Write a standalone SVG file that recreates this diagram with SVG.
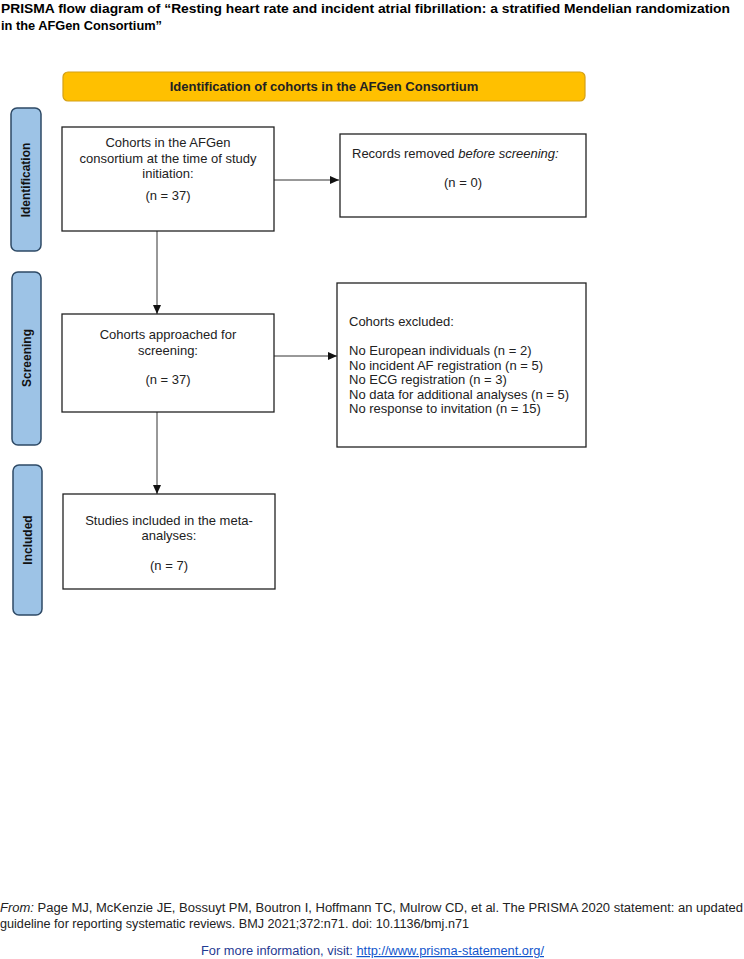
<svg xmlns="http://www.w3.org/2000/svg" width="744" height="959" viewBox="0 0 744 959">
<style>
.box{fill:#fff;stroke:#222;stroke-width:1.3}
.side{fill:#9DC3E6;stroke:#2E4A66;stroke-width:1.5}
.t{font-family:"Liberation Sans",Arial,sans-serif;font-size:13px;fill:#222}
.c{text-anchor:middle}
.sl{font-family:"Liberation Sans",Arial,sans-serif;font-size:12px;font-weight:bold;fill:#111;text-anchor:middle}
.ttl{font-family:"Liberation Sans",Arial,sans-serif;font-size:13.5px;font-weight:bold;fill:#000}
.ft{font-family:"Liberation Sans",Arial,sans-serif;font-size:12px;fill:#222}
.line{stroke:#333;stroke-width:1;fill:none}
</style>
<defs>
<marker id="ah" markerWidth="10" markerHeight="10" refX="9" refY="5" orient="auto" markerUnits="userSpaceOnUse">
<path d="M0,1 L9,5 L0,9 Z" fill="#111"/>
</marker>
</defs>
<rect width="744" height="959" fill="#fff"/>
<g id="title">
<text class="ttl" x="1" y="13" textLength="729" lengthAdjust="spacingAndGlyphs">PRISMA flow diagram of “Resting heart rate and incident atrial fibrillation: a stratified Mendelian randomization</text>
<text class="ttl" x="1" y="30" textLength="161" lengthAdjust="spacingAndGlyphs">in the AFGen Consortium”</text>
</g>
<g id="banner">
<rect x="63" y="72" width="522" height="29" rx="5" fill="#FFC000" stroke="#D4A017" stroke-width="1.2"/>
<text class="t c" x="324" y="91" font-weight="bold" font-size="12">Identification of cohorts in the AFGen Consortium</text>
</g>
<g id="side-identification">
<rect class="side" x="11" y="108" width="30" height="143" rx="6"/>
<text class="sl" transform="translate(30,180) rotate(-90)">Identification</text>
</g>
<g id="side-screening">
<rect class="side" x="12" y="272" width="29" height="173" rx="6"/>
<text class="sl" transform="translate(31,358) rotate(-90)">Screening</text>
</g>
<g id="side-included">
<rect class="side" x="13" y="465" width="29" height="150" rx="6"/>
<text class="sl" transform="translate(32,540) rotate(-90)">Included</text>
</g>
<g id="connectors">
<line class="line" x1="274" y1="180" x2="339" y2="180" marker-end="url(#ah)"/>
<line class="line" x1="157" y1="231" x2="157" y2="314" marker-end="url(#ah)"/>
<line class="line" x1="274" y1="356" x2="337" y2="356" marker-end="url(#ah)"/>
<line class="line" x1="157" y1="412" x2="157" y2="494" marker-end="url(#ah)"/>
</g>
<g id="node-cohorts">
<rect class="box" x="62" y="127" width="212" height="104"/>
<text class="t c" x="168" y="147">Cohorts in the AFGen</text>
<text class="t c" x="168" y="163">consortium at the time of study</text>
<text class="t c" x="168" y="178">initiation:</text>
<text class="t c" x="168" y="200">(n = 37)</text>
</g>
<g id="node-removed">
<rect class="box" x="340" y="134" width="246" height="83"/>
<text class="t" x="352" y="158">Records removed <tspan font-style="italic">before screening:</tspan></text>
<text class="t c" x="463" y="187">(n = 0)</text>
</g>
<g id="node-screened">
<rect class="box" x="62" y="314" width="212" height="98"/>
<text class="t c" x="168" y="339">Cohorts approached for</text>
<text class="t c" x="168" y="355">screening:</text>
<text class="t c" x="168" y="384">(n = 37)</text>
</g>
<g id="node-excluded">
<rect class="box" x="337" y="283" width="249" height="164"/>
<text class="t" x="349" y="326">Cohorts excluded:</text>
<text class="t" x="349" y="355">No European individuals (n = 2)</text>
<text class="t" x="349" y="370">No incident AF registration (n = 5)</text>
<text class="t" x="349" y="384">No ECG registration (n = 3)</text>
<text class="t" x="349" y="399">No data for additional analyses (n = 5)</text>
<text class="t" x="349" y="413">No response to invitation (n = 15)</text>
</g>
<g id="node-included">
<rect class="box" x="63" y="494" width="212" height="95"/>
<text class="t c" x="169" y="525">Studies included in the meta-</text>
<text class="t c" x="169" y="540">analyses:</text>
<text class="t c" x="169" y="570">(n = 7)</text>
</g>
<g id="footer">
<text class="ft" x="0" y="912" textLength="743" lengthAdjust="spacingAndGlyphs"><tspan font-style="italic">From:</tspan>  Page MJ, McKenzie JE, Bossuyt PM, Boutron I, Hoffmann TC, Mulrow CD, et al. The PRISMA 2020 statement: an updated</text>
<text class="ft" x="0" y="928" textLength="469" lengthAdjust="spacingAndGlyphs">guideline for reporting systematic reviews. BMJ 2021;372:n71. doi: 10.1136/bmj.n71</text>
<text class="ft" x="201" y="955" fill="#1F3A93" textLength="343" lengthAdjust="spacingAndGlyphs"><tspan fill="#1F3A93">For more information, visit: </tspan><tspan fill="#1155CC" text-decoration="underline">http://www.prisma-statement.org/</tspan></text>
</g>
</svg>
